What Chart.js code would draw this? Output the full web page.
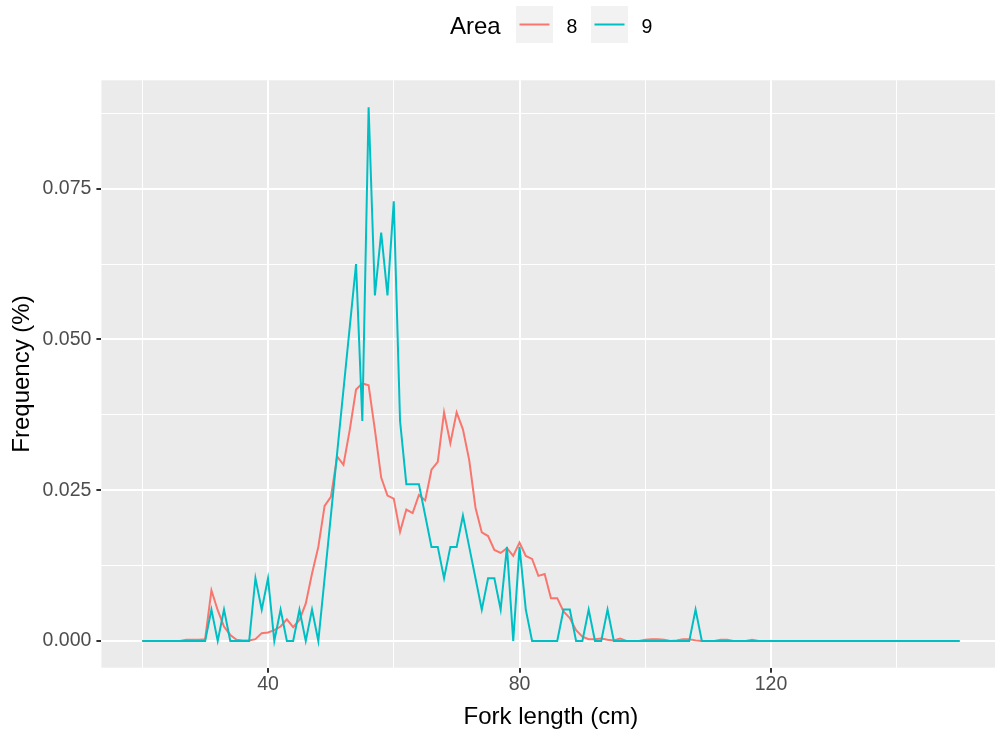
<!DOCTYPE html>
<html>
<head>
<meta charset="utf-8">
<title>Fork length frequency by area</title>
<script src="https://cdn.jsdelivr.net/npm/chart.js@4.4.0/dist/chart.umd.min.js"></script>
<style>
  html, body { margin: 0; padding: 0; background: #ffffff; overflow: hidden; width: 995px; height: 734px; }
</style>
</head>
<body>
<!-- the original plot is a little wider than the picture, its right edge is cut off -->
<canvas id="lengthChart" width="1001" height="734"></canvas>
<script>
// Area 8 - one value per cm
const LENGTHS_8 = [
  20, 21, 22, 23, 24, 25, 26, 27, 28, 29, 30, 31, 32, 33, 34, 35, 36, 37, 38, 39,
  40, 41, 42, 43, 44, 45, 46, 47, 48, 49, 50, 51, 52, 53, 54, 55, 56, 57, 58, 59,
  60, 61, 62, 63, 64, 65, 66, 67, 68, 69, 70, 71, 72, 73, 74, 75, 76, 77, 78, 79,
  80, 81, 82, 83, 84, 85, 86, 87, 88, 89, 90, 91, 92, 93, 94, 95, 96, 97, 98, 99,
  100, 101, 102, 103, 104, 105, 106, 107, 108, 109, 110, 111, 112, 113, 114, 115, 116, 117, 118, 119,
  120, 121, 122, 123, 124, 125, 126, 127, 128, 129, 130, 131, 132, 133, 134, 135, 136, 137, 138, 139,
  140, 141, 142, 143, 144, 145, 146, 147, 148, 149, 150
];
const FREQ_8 = [
  0, 0, 0, 0, 0, 0, 0, 0.0002, 0.0002, 0.0002, 0.0003,
  0.0084, 0.0051, 0.0024, 0.0010, 0.0002, 0.0001, 0.0001, 0.0003, 0.0013, 0.0014,
  0.0018, 0.0024, 0.0036, 0.0023, 0.0035, 0.0062, 0.0112, 0.0156, 0.0224, 0.0239,
  0.0306, 0.0292, 0.0350, 0.0417, 0.0427, 0.0424, 0.0350, 0.0271, 0.0241, 0.0236,
  0.0181, 0.0218, 0.0212, 0.0242, 0.0233, 0.0284, 0.0297, 0.0379, 0.0328, 0.0379,
  0.0351, 0.0300, 0.0221, 0.0180, 0.0174, 0.0151, 0.0146, 0.0154, 0.0141, 0.0163,
  0.0141, 0.0136, 0.0108, 0.0111, 0.0071, 0.0071, 0.0049, 0.0038, 0.0018, 0.0007,
  0.0003, 0.0003, 0.0004, 0.0002, 0.0001, 0.0004, 0, 0, 0, 0.0002,
  0.0003, 0.0003, 0.0002, 0, 0.0001, 0.0003, 0.0003, 0.0001, 0, 0,
  0, 0.0002, 0.0002, 0, 0, 0, 0.0002, 0, 0, 0,
  0, 0, 0, 0, 0, 0, 0, 0, 0, 0,
  0, 0, 0, 0, 0, 0, 0, 0, 0, 0,
  0, 0, 0, 0, 0, 0, 0, 0, 0, 0
];

// Area 9 - no rows between 49 and 53 cm
const LENGTHS_9 = [
  20, 21, 22, 23, 24, 25, 26, 27, 28, 29, 30, 31, 32, 33, 34, 35, 36, 37, 38, 39,
  40, 41, 42, 43, 44, 45, 46, 47, 48,
  54, 55, 56, 57, 58, 59,
  60, 61, 62, 63, 64, 65, 66, 67, 68, 69, 70, 71, 72, 73, 74, 75, 76, 77, 78, 79,
  80, 81, 82, 83, 84, 85, 86, 87, 88, 89, 90, 91, 92, 93, 94, 95, 96, 97, 98, 99,
  100, 101, 102, 103, 104, 105, 106, 107, 108, 109, 110, 111, 112, 113, 114, 115, 116, 117, 118, 119,
  120, 121, 122, 123, 124, 125, 126, 127, 128, 129, 130, 131, 132, 133, 134, 135, 136, 137, 138, 139,
  140, 141, 142, 143, 144, 145, 146, 147, 148, 149, 150
];
const FREQ_9 = [
  0, 0, 0, 0, 0, 0, 0, 0, 0, 0, 0,
  0.0052, 0, 0.0052, 0, 0, 0, 0, 0.0104, 0.0052, 0.0104,
  0, 0.0052, 0, 0, 0.0052, 0, 0.0052, 0,
  0.0625, 0.0365, 0.0885, 0.0573, 0.0677, 0.0573, 0.0729,
  0.0365, 0.0260, 0.0260, 0.0260, 0.0208, 0.0156, 0.0156, 0.0104, 0.0156, 0.0156,
  0.0208, 0.0156, 0.0104, 0.0052, 0.0104, 0.0104, 0.0052, 0.0156, 0, 0.0156,
  0.0052, 0, 0, 0, 0, 0, 0.0052, 0.0052, 0, 0,
  0.0052, 0, 0, 0.0052, 0, 0, 0, 0, 0, 0,
  0, 0, 0, 0, 0, 0, 0, 0.0052, 0, 0,
  0, 0, 0, 0, 0, 0, 0, 0, 0, 0,
  0, 0, 0, 0, 0, 0, 0, 0, 0, 0,
  0, 0, 0, 0, 0, 0, 0, 0, 0, 0,
  0, 0, 0, 0, 0, 0, 0, 0, 0, 0
];

const AREAS = ['8', '9'];
const AREA_COLOURS = ['#F8766D', '#00BFC4'];

// axis breaks (major ones carry a label, the others are minor grid lines)
const X_TICKS = [20, 40, 60, 80, 100, 120, 140];
const X_LABELS = ['', '40', '', '80', '', '120', ''];
const Y_TICKS = [0, 0.0125, 0.025, 0.0375, 0.05, 0.0625, 0.075, 0.0875];
const Y_LABELS = ['0.000', '', '0.025', '', '0.050', '', '0.075', ''];

const FONT_FAMILY = '"Liberation Sans", Arial, sans-serif';
const PANEL_GREY = '#EBEBEB';

function toPoints(xs, ys) {
    return xs.map((x, i) => ({x: x, y: ys[i]}));
}

// grey panel behind the grid, like ggplot's theme_grey
const panelBackground = {
    id: 'panelBackground',
    beforeDraw(chart) {
        const {ctx, chartArea} = chart;
        ctx.save();
        ctx.fillStyle = PANEL_GREY;
        ctx.fillRect(chartArea.left, chartArea.top, chartArea.right - chartArea.left, chartArea.bottom - chartArea.top);
        ctx.restore();
    }
};

// ggplot style legend on top: title then key boxes
const topLegend = {
    id: 'topLegend',
    afterDraw(chart) {
        const ctx = chart.ctx;
        ctx.save();
        ctx.textBaseline = 'alphabetic';
        ctx.textAlign = 'left';
        ctx.fillStyle = '#000000';
        ctx.font = '24px ' + FONT_FAMILY;
        ctx.fillText('Area', 450, 33.5);

        const keyLefts = [516, 591];
        chart.data.datasets.forEach((ds, i) => {
            const left = keyLefts[i];
            ctx.fillStyle = '#F2F2F2';
            ctx.fillRect(left, 6, 37, 37);
            ctx.strokeStyle = ds.borderColor;
            ctx.lineWidth = 2;
            ctx.beginPath();
            ctx.moveTo(left + 3.5, 24.5);
            ctx.lineTo(left + 33.5, 24.5);
            ctx.stroke();
            ctx.fillStyle = '#000000';
            ctx.font = '19.5px ' + FONT_FAMILY;
            ctx.fillText(ds.label, left + 50.5, 32.5);
        });
        ctx.restore();
    }
};

function buildChart() {
    const chartElement = document.getElementById('lengthChart').getContext('2d');
    new Chart(chartElement, {
        type: 'line',
        data: {
            datasets: [{
                label: AREAS[0],
                data: toPoints(LENGTHS_8, FREQ_8),
                borderColor: AREA_COLOURS[0],
                borderWidth: 2,
                pointRadius: 0,
                tension: 0,
                fill: false,
                order: 1
            }, {
                label: AREAS[1],
                data: toPoints(LENGTHS_9, FREQ_9),
                borderColor: AREA_COLOURS[1],
                borderWidth: 2,
                pointRadius: 0,
                tension: 0,
                fill: false,
                order: 0
            }]
        },
        options: {
            responsive: false,
            animation: false,
            events: [],
            layout: {padding: {top: 80.3, right: 0.5, bottom: 0, left: 0}},
            plugins: {
                legend: {display: false},
                tooltip: {enabled: false}
            },
            scales: {
                x: {
                    type: 'linear',
                    min: 13.5,
                    max: 156.5,
                    afterBuildTicks: scale => { scale.ticks = X_TICKS.map(v => ({value: v})); },
                    afterFit: scale => { scale.height = 66.3; },
                    ticks: {
                        autoSkip: false,
                        maxRotation: 0,
                        padding: 0,
                        color: '#4D4D4D',
                        font: {family: FONT_FAMILY, size: 19.5},
                        callback: (value, index) => X_LABELS[index]
                    },
                    grid: {
                        color: '#FFFFFF',
                        lineWidth: ctx => X_LABELS[ctx.index] ? 2 : 1,
                        tickColor: ctx => X_LABELS[ctx.index] ? '#333333' : 'rgba(0,0,0,0)',
                        tickLength: 5,
                        tickWidth: 2
                    },
                    border: {display: false},
                    title: {
                        display: true,
                        text: 'Fork length (cm)',
                        color: '#000000',
                        font: {family: FONT_FAMILY, size: 24},
                        padding: {top: 0, bottom: 2.6}
                    }
                },
                y: {
                    type: 'linear',
                    min: -0.00443,
                    max: 0.09297,
                    afterBuildTicks: scale => { scale.ticks = Y_TICKS.map(v => ({value: v})); },
                    afterFit: scale => { scale.width = 101.4; },
                    ticks: {
                        autoSkip: false,
                        padding: 5,
                        color: '#4D4D4D',
                        font: {family: FONT_FAMILY, size: 19.5},
                        callback: (value, index) => Y_LABELS[index]
                    },
                    grid: {
                        color: '#FFFFFF',
                        lineWidth: ctx => Y_LABELS[ctx.index] ? 2 : 1,
                        tickColor: ctx => Y_LABELS[ctx.index] ? '#333333' : 'rgba(0,0,0,0)',
                        tickLength: 5,
                        tickWidth: 2
                    },
                    border: {display: false},
                    title: {
                        display: true,
                        text: 'Frequency (%)',
                        color: '#000000',
                        font: {family: FONT_FAMILY, size: 24},
                        padding: {top: 7.6, bottom: 0}
                    }
                }
            }
        },
        plugins: [panelBackground, topLegend]
    });
}

window.onload = buildChart;
</script>
</body>
</html>
